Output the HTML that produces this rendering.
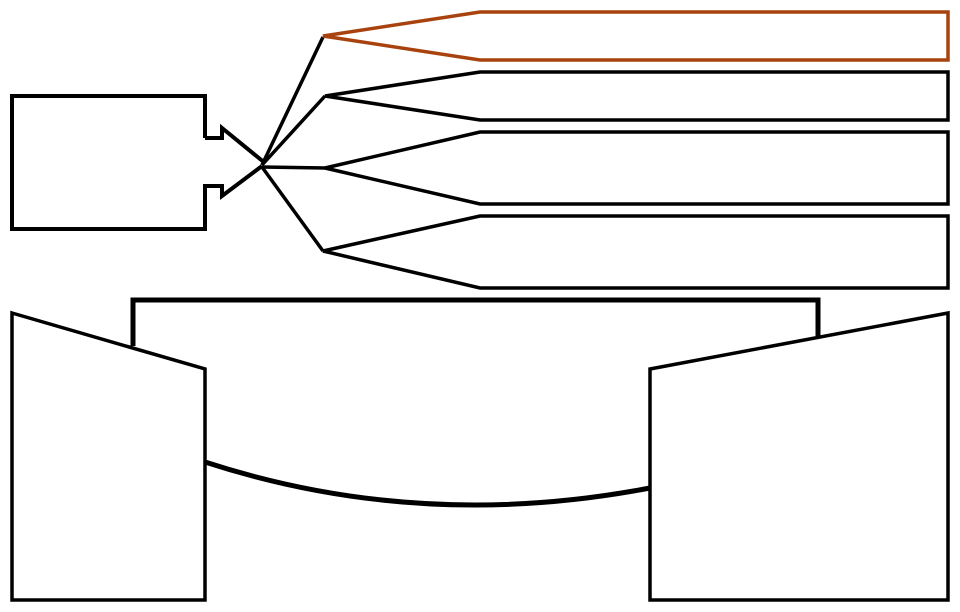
<!DOCTYPE html>
<html><head><meta charset="utf-8"><style>html,body{margin:0;padding:0;background:#fff}svg{display:block}</style></head>
<body>
<svg width="960" height="612" viewBox="0 0 960 612" xmlns="http://www.w3.org/2000/svg" fill="none" stroke="#000" stroke-linejoin="miter">
<path d="M205,138 L205,96 L12,96 L12,229 L205,229 L205,186 L222,186 L222,196 L262,166" stroke-width="4"/>
<path d="M205,138 L222,138 L222,128 L265,163" stroke-width="4"/>
<g stroke-width="3.5">
<line x1="262" y1="165" x2="323" y2="37"/>
<line x1="262" y1="165" x2="325" y2="96"/>
<line x1="262" y1="167" x2="325" y2="168"/>
<line x1="262" y1="167" x2="323" y2="251"/>
<path d="M325,96 L480,72 L948,72 L948,120 L480,120 Z"/>
<path d="M325,168 L480,132 L948,132 L948,204 L480,204 Z"/>
<path d="M323,251 L480,216 L948,216 L948,288 L480,288 Z"/>
</g>
<path d="M323,36 L480,12 L948,12 L948,60 L480,60 Z" stroke="#a8430f" stroke-width="3.5"/>
<path d="M133,346 L133,300 L818,300 L818,336" stroke-width="5"/>
<path d="M205,462 Q420,532 650,488" stroke-width="5"/>
<g stroke-width="3.5">
<path d="M12,313 L205,369 L205,600 L12,600 Z"/>
<path d="M650,369 L948,313 L948,600 L650,600 Z"/>
</g>
</svg>
</body></html>
